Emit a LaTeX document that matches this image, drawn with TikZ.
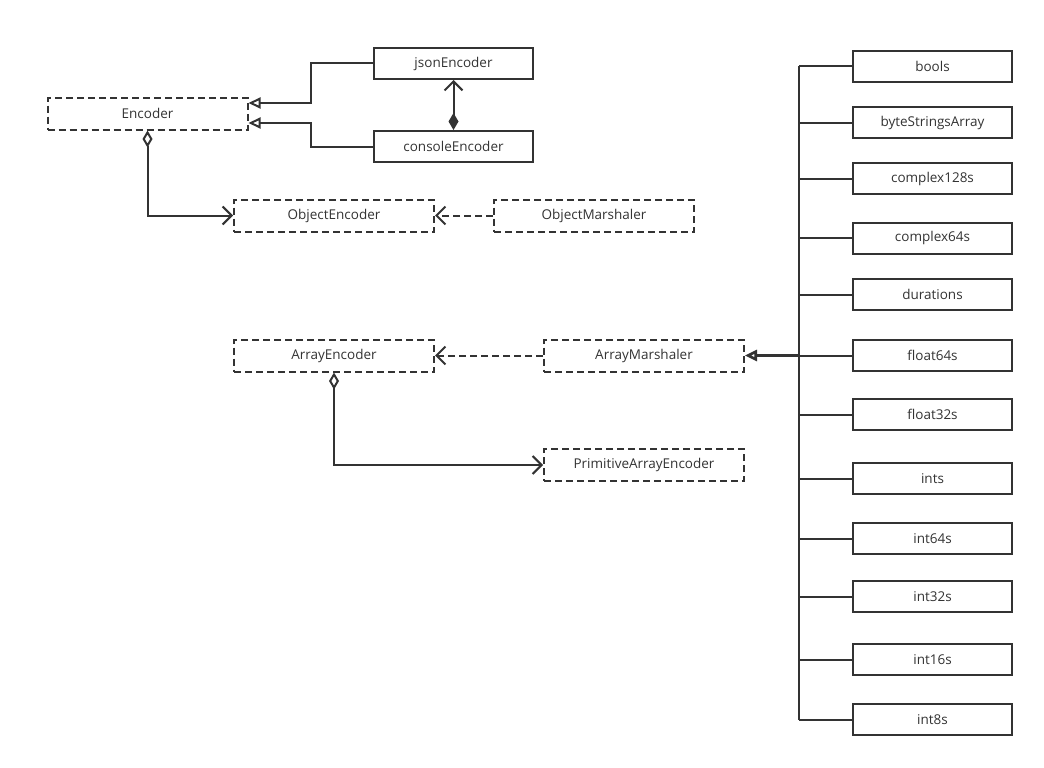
\documentclass[tikz,border=0pt]{standalone}
\usepackage{fontspec}
\setmainfont{Open Sans}
\usetikzlibrary{arrows.meta}
\definecolor{ln}{HTML}{333333}
\begin{document}
\begin{tikzpicture}[x=1pt,y=-1pt,
  every node/.style={font=\fontsize{13.5}{15}\selectfont, text=ln},
  cls/.style={draw=ln, line width=2pt, minimum width=159pt, minimum height=31pt, inner sep=0pt},
  itf/.style={draw=ln, line width=2pt, dash pattern=on 7pt off 4pt, minimum width=200pt, minimum height=32pt, inner sep=0pt},
  link/.style={draw=ln, line width=2pt},
  gen/.style={link, -{Triangle[open,length=12pt,width=11pt]}},
  dep/.style={link, dash pattern=on 7pt off 4pt, -{Straight Barb[length=9pt,width=18pt]}},
  agg/.style={link, {Diamond[open,length=17pt,width=10pt]}-{Straight Barb[length=9pt,width=18pt]}},
  comp/.style={link, {Straight Barb[length=9pt,width=18pt]}-{Diamond[length=17pt,width=10pt]}}
]
\useasboundingbox (0,0) rectangle (1044,768);
\node[cls] (json) at (453.5,63.5) {jsonEncoder};
\node[cls] (console) at (453.5,146.5) {consoleEncoder};
\node[itf] (enc) at (147.5,113.5) {Encoder};
\node[itf] (objenc) at (334,215.5) {ObjectEncoder};
\node[itf] (objmar) at (594,215.5) {ObjectMarshaler};
\node[itf] (arrenc) at (334,355.5) {ArrayEncoder};
\node[itf] (arrmar) at (644,355.5) {ArrayMarshaler};
\node[itf] (prim) at (644,465) {PrimitiveArrayEncoder};

\coordinate (jsbend) at (311,63.5);
\coordinate (cobend) at (311,146.5);
\draw[gen] (json.west) -- (jsbend) |- ([yshift=10.5pt]enc.east);
\draw[gen] (console.west) -- (cobend) |- ([yshift=-9.5pt]enc.east);
\draw[comp] (json.south) -- (console.north);
\draw[agg] (enc.south) |- (objenc.west);
\draw[dep] (objmar.west) -- (objenc.east);
\draw[dep] (arrmar.west) -- (arrenc.east);
\draw[agg] (arrenc.south) |- (prim.west);

\foreach \n/\t/\y in {b1/bools/66.5, b2/byteStringsArray/122.5, b3/complex128s/178.5, b4/complex64s/238, b5/durations/294.5, b6/float64s/355.5, b7/float32s/414.5, b8/ints/478.5, b9/int64s/538.5, b10/int32s/596.5, b11/int16s/659.5, b12/int8s/719.5}{
  \node[cls] (\n) at (932.5,\y) {\t};
  \draw[link] (\n.west) -- (799,\y);
}
\coordinate (bustop) at (799,66.5);
\coordinate (busbot) at (799,719.5);
\draw[link] (bustop) -- (busbot);
\coordinate (busmid) at (799,355.5);
\draw[gen, line width=2.6pt] (busmid) -- (arrmar.east);
\end{tikzpicture}
\end{document}
